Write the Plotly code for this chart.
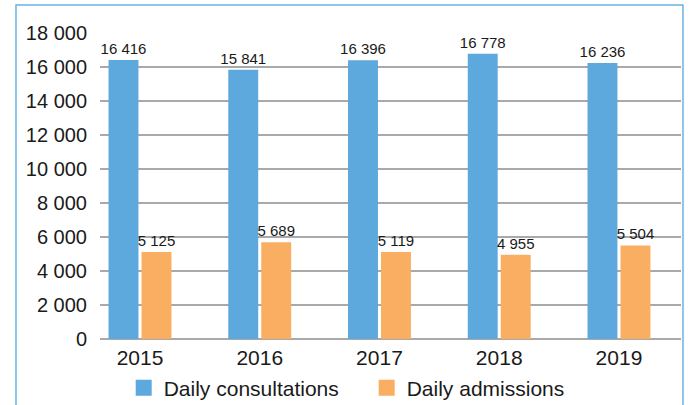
import plotly.graph_objects as go

years = ["2015", "2016", "2017", "2018", "2019"]
consultations = [16416, 15841, 16396, 16778, 16236]
admissions = [5125, 5689, 5119, 4955, 5504]

BLUE = "#5DA8DC"
ORANGE = "#F9AE62"
FONT = "Liberation Sans, Arial, sans-serif"

fig = go.Figure()
fig.add_trace(go.Bar(
    x=years, y=consultations, name="Daily consultations",
    marker=dict(color=BLUE, line=dict(width=0)),
    texttemplate="%{y:,d}", textposition="outside", cliponaxis=False,
    constraintext="none",
    textfont=dict(size=15, color="#1a1a1a", family=FONT),
    showlegend=False,
))
fig.add_trace(go.Bar(
    x=years, y=admissions, name="Daily admissions",
    marker=dict(color=ORANGE, line=dict(width=0)),
    texttemplate="%{y:,d}", textposition="outside", cliponaxis=False,
    constraintext="none",
    textfont=dict(size=15, color="#1a1a1a", family=FONT),
    showlegend=False,
))
# legend entries
fig.add_trace(go.Scatter(x=[None], y=[None], mode="markers", name="Daily consultations",
                         marker=dict(symbol="square", size=17, color=BLUE)))
fig.add_trace(go.Scatter(x=[None], y=[None], mode="markers", name="Daily admissions",
                         marker=dict(symbol="square", size=17, color=ORANGE)))

fig.update_layout(
    width=691, height=405,
    margin=dict(l=100, r=10, t=33, b=66),
    paper_bgcolor="white", plot_bgcolor="white",
    separators=". ",
    barmode="group", bargap=0.449, bargroupgap=0.093,
    font=dict(family=FONT, color="#1a1a1a"),
    legend=dict(orientation="h", xref="container", yref="container",
                x=0.179, xanchor="left", y=0.042, yanchor="middle",
                font=dict(size=21, family=FONT), itemwidth=30, tracegroupgap=0,
                entrywidth=198, entrywidthmode="pixels",
                bgcolor="rgba(0,0,0,0)"),
    xaxis=dict(type="category", range=[-0.334, 4.518], showgrid=False,
               showline=False, zeroline=False, ticks="", automargin=False,
               tickfont=dict(size=21, family=FONT), ticklabelstandoff=4),
    yaxis=dict(range=[0, 18000], dtick=2000, tickformat=",d", automargin=False,
               showgrid=True, gridcolor="#A9A9A9", gridwidth=1.5,
               zeroline=True, zerolinecolor="#A9A9A9", zerolinewidth=2,
               showline=False, ticks="",
               tickfont=dict(size=20, family=FONT), ticklabelstandoff=12),
    shapes=[dict(type="rect", xref="paper", yref="paper",
                 x0=-0.1446, x1=1.0034, y0=-0.3, y1=1.0915,
                 line=dict(color="#6CB2E4", width=1.5), fillcolor="rgba(0,0,0,0)",
                 layer="below")],
)

fig.write_html("out.html")
